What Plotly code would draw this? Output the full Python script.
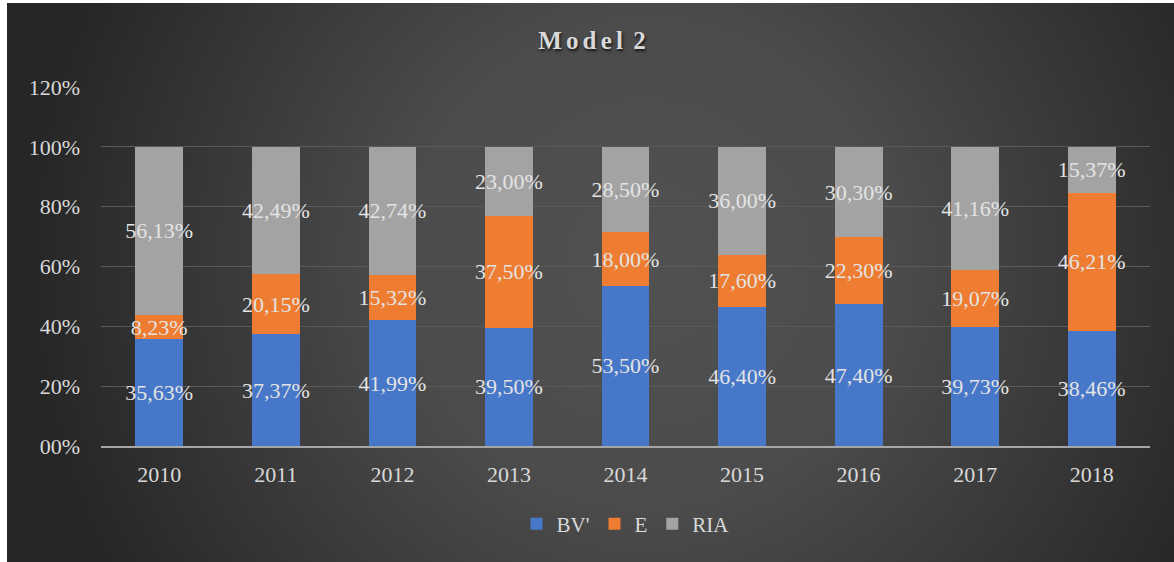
import base64
import plotly.graph_objects as go

years = ["2010", "2011", "2012", "2013", "2014", "2015", "2016", "2017", "2018"]
bv = [35.63, 37.37, 41.99, 39.50, 53.50, 46.40, 47.40, 39.73, 38.46]
e = [8.23, 20.15, 15.32, 37.50, 18.00, 17.60, 22.30, 19.07, 46.21]
ria = [56.13, 42.49, 42.74, 23.00, 28.50, 36.00, 30.30, 41.16, 15.37]
series_names = ["BV'", "E", "RIA"]
tick_vals = [0, 20, 40, 60, 80, 100, 120]
tick_text = ["00%", "20%", "40%", "60%", "80%", "100%", "120%"]

colors = ["#4777c9", "#ee7c31", "#a3a3a3"]
FONT = "Liberation Serif, Times New Roman, serif"
TXT = "#d9d9d9"

W, H = 1174, 562
ml, mr, mt, mb = 101, 24, 87, 116
pw, ph = W - ml - mr, H - mt - mb


def fmt(v):
    return f"{v:.2f}".replace(".", ",") + "%"


fig = go.Figure()
for name, vals, col in zip(series_names, [bv, e, ria], colors):
    fig.add_trace(go.Bar(
        x=years, y=vals, name=name,
        marker=dict(color=col, line=dict(width=0)),
        text=[fmt(v) for v in vals],
        textposition="inside", insidetextanchor="middle", textangle=0,
        constraintext="none",
        textfont=dict(family=FONT, size=22, color="#e3e3e3"),
        hoverinfo="x+y+name",
    ))

svg = (
    "<svg xmlns='http://www.w3.org/2000/svg' width='1167' height='559' viewBox='0 0 1167 559' preserveAspectRatio='none'>"
    "<defs><radialGradient id='g' gradientUnits='userSpaceOnUse' cx='640' cy='260' r='620'>"
    "<stop offset='0' stop-color='#515151'/><stop offset='0.4' stop-color='#4b4b4b'/>"
    "<stop offset='1' stop-color='#262626'/></radialGradient></defs>"
    "<rect x='0' y='0' width='1167' height='559' fill='url(#g)'/></svg>"
)
src = "data:image/svg+xml;base64," + base64.b64encode(svg.encode()).decode()

bx0 = (7 - ml) / pw
bx1 = (W - ml) / pw
by0 = (H - mb - 3) / ph
by1 = (H - mb - H) / ph

fig.update_layout(
    width=W, height=H,
    margin=dict(l=ml, r=mr, t=mt, b=mb),
    barmode="stack", bargap=0.59,
    paper_bgcolor="white", plot_bgcolor="rgba(0,0,0,0)",
    images=[dict(source=src, xref="paper", yref="paper", x=bx0, y=by0,
                 sizex=bx1 - bx0, sizey=by0 - by1, xanchor="left", yanchor="top",
                 sizing="stretch", layer="below")],
    title=dict(text="M\u2006o\u2006d\u2006e\u2006l\u2006 2", x=592 / W, xref="container", xanchor="center",
               y=1 - 40 / H, yref="container", yanchor="middle",
               font=dict(family=FONT, size=25, color=TXT, weight="bold",
                         shadow="1px 2px 3px rgba(0,0,0,0.8)")),
    legend=dict(orientation="h", x=0.5, xanchor="center", y=(446 - 524) / ph, yanchor="middle",
                font=dict(family=FONT, size=21, color=TXT), itemwidth=30,
                traceorder="normal", bgcolor="rgba(0,0,0,0)"),
    showlegend=True,
    xaxis=dict(showgrid=False, showline=True, linecolor="#a6a6a6", linewidth=2,
               tickfont=dict(family=FONT, size=22, color=TXT), ticks="",
               ticklabelstandoff=8, fixedrange=True),
    yaxis=dict(range=[0, 120], tickvals=tick_vals, ticktext=tick_text,
               showgrid=True, gridcolor="#5a5a5a", gridwidth=1, zeroline=False,
               tickfont=dict(family=FONT, size=22, color=TXT), ticks="",
               ticklabelstandoff=20, fixedrange=True),
)

fig.write_html("out.html", config={"displayModeBar": False},
               post_script="document.body.style.margin='0';")
